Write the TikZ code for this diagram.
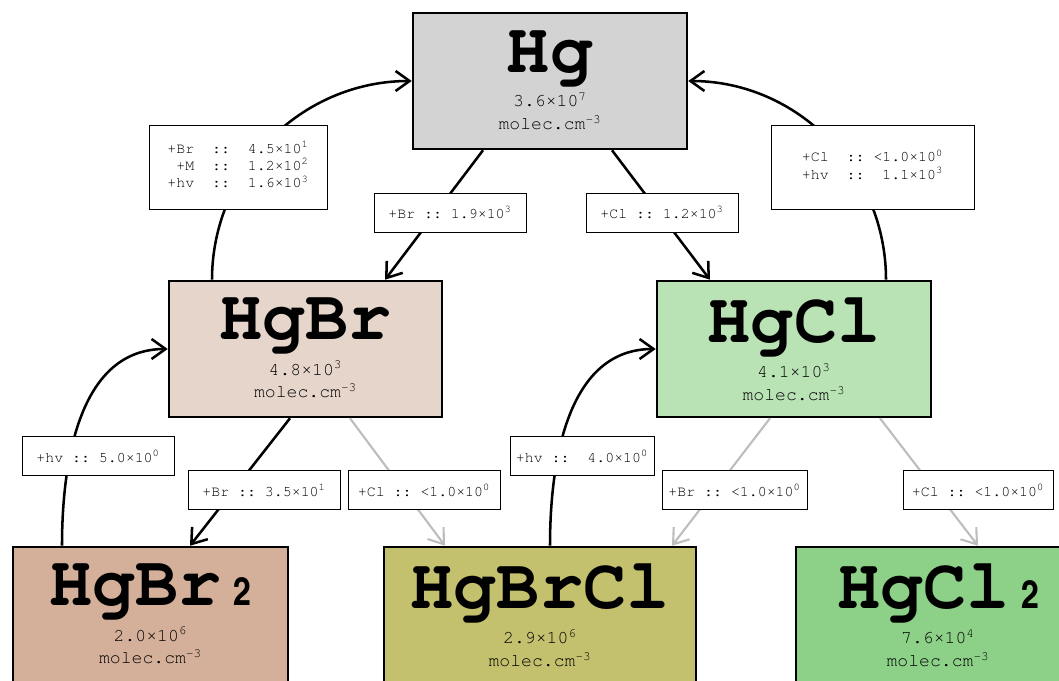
\documentclass[tikz,border=0pt]{standalone}
\usepackage[T1]{fontenc}
\usetikzlibrary{arrows.meta}
\definecolor{hgfill}{HTML}{D3D3D3}
\definecolor{hgbrfill}{HTML}{E6D5CA}
\definecolor{hgclfill}{HTML}{B9E2B5}
\definecolor{hgbrtwofill}{HTML}{D4B09A}
\definecolor{hgbrclfill}{HTML}{C3C06E}
\definecolor{hgcltwofill}{HTML}{8DD088}
\definecolor{weakgray}{HTML}{BDBDBD}
\newcommand{\cour}{\fontfamily{pcr}\fontseries{m}\selectfont\frenchspacing}
\newcommand{\bigname}{\fontsize{51}{51}\fontfamily{pcr}\fontseries{b}\selectfont}
\newcommand{\subtwo}[1]{{\fontsize{28}{28}\fontfamily{phv}\fontseries{bc}\selectfont #1}}
\newcommand{\tenpow}[1]{\texttimes10\textsuperscript{#1}}
\tikzset{
    species/.style = {draw, line width=1.8pt, rectangle, minimum height=3.4cm, align=center, font=\fontsize{12.9}{16.2}\cour},
    ratebox/.style = {draw, line width=0.7pt, fill=white, minimum height=0.975cm, font=\fontsize{10.6}{12.4}\cour},
    flow/.style = {draw, ->, line width=1.8pt},
    weakflow/.style = {flow, weakgray, line width=1.5pt},
    >={Straight Barb[length=3.5mm, width=5mm]}
}

\begin{document}
\begin{tikzpicture}
        \useasboundingbox (0, 0) rectangle (26.475, 17);
        % species
        \node[species, fill=hgfill, minimum width=6.85cm] (Hg) at (13.75, 14.975) {{\bigname Hg}\\[7pt] 3.6\tenpow{7}\\ molec.cm\textsuperscript{-3}};
        \node[species, fill=hgbrfill, minimum width=6.825cm] (HgBr) at (7.6375, 8.275) {{\bigname HgBr}\\[7pt] 4.8\tenpow{3}\\ molec.cm\textsuperscript{-3}};
        \node[species, fill=hgclfill, minimum width=6.85cm] (HgCl) at (19.85, 8.275) {{\bigname HgCl}\\[7pt] 4.1\tenpow{3}\\ molec.cm\textsuperscript{-3}};
        \node[species, fill=hgbrtwofill, minimum width=6.875cm] (HgBr2) at (3.7625, 1.625) {{\bigname HgBr\,\subtwo{2}}\\[7pt] 2.0\tenpow{6}\\ molec.cm\textsuperscript{-3}};
        \node[species, fill=hgbrclfill, minimum width=7.8cm] (HgBrCl) at (13.5, 1.625) {{\bigname HgBrCl}\\[7pt] 2.9\tenpow{6}\\ molec.cm\textsuperscript{-3}};
        \node[species, fill=hgcltwofill, minimum width=7.1cm] (HgCl2) at (23.45, 1.625) {{\bigname HgCl\,\subtwo{2}}\\[7pt] 7.6\tenpow{4}\\ molec.cm\textsuperscript{-3}};
        % reactions
        \path[flow] ([xshift=-1.675cm]Hg.south) -- ([xshift=1.9875cm]HgBr.north);
        \path[flow] ([xshift=1.55cm]Hg.south) -- ([xshift=-2.1cm]HgCl.north);
        \path[flow] ([xshift=-2.3375cm]HgBr.north) to[out=90, in=180] (Hg.west);
        \path[flow] ([xshift=2.3cm]HgCl.north) to[out=90, in=0] (Hg.east);
        \path[flow] ([xshift=-0.3875cm]HgBr.south) -- ([xshift=0.9875cm]HgBr2.north);
        \path[weakflow] ([xshift=1.1125cm]HgBr.south) -- ([xshift=-2.375cm]HgBrCl.north);
        \path[flow] ([xshift=-2.2125cm]HgBr2.north) to[out=90, in=180] (HgBr.west);
        \path[flow] ([xshift=0.25cm]HgBrCl.north) to[out=90, in=180] (HgCl.west);
        \path[weakflow] ([xshift=-0.6cm]HgCl.south) -- ([xshift=3.3cm]HgBrCl.north);
        \path[weakflow] ([xshift=2.15cm]HgCl.south) -- ([xshift=1cm]HgCl2.north);
        % rates
        \node[ratebox, minimum width=4.45cm, minimum height=2.1cm] (rBrHg) at (5.95, 12.825) {\begin{tabular}{@{}r@{~~::~~}l@{}}+Br & 4.5\tenpow{1}\\ +M & 1.2\tenpow{2}\\ +hv & 1.6\tenpow{3}\end{tabular}};
        \node[ratebox, minimum width=5.075cm, minimum height=2.1cm] (rClHg) at (21.8125, 12.825) {\begin{tabular}{@{}l@{~~::~}r@{}}+Cl & <1.0\tenpow{0}\\ +hv & 1.1\tenpow{3}\end{tabular}};
        \node[ratebox, minimum width=3.8cm] (rHgBr) at (11.25, 11.6875) {+Br :: 1.9\tenpow{3}};
        \node[ratebox, minimum width=3.8cm] (rHgCl) at (16.55, 11.6875) {+Cl :: 1.2\tenpow{3}};
        \node[ratebox, minimum width=3.8cm] (rBrtwoBr) at (2.45, 5.6) {+hv :: 5.0\tenpow{0}};
        \node[ratebox, minimum width=3.8cm] (rBrBrtwo) at (6.6, 4.75) {+Br :: 3.5\tenpow{1}};
        \node[ratebox, minimum width=3.8cm] (rBrBrCl) at (10.6, 4.75) {+Cl :: <1.0\tenpow{0}};
        \node[ratebox, minimum width=3.6cm] (rBrClCl) at (14.55, 5.6) {+hv ::~~4.0\tenpow{0}};
        \node[ratebox, minimum width=3.625cm] (rClBrCl) at (18.3625, 4.75) {+Br :: <1.0\tenpow{0}};
        \node[ratebox, minimum width=3.75cm] (rClCltwo) at (24.45, 4.75) {+Cl :: <1.0\tenpow{0}};
\end{tikzpicture}
\end{document}
